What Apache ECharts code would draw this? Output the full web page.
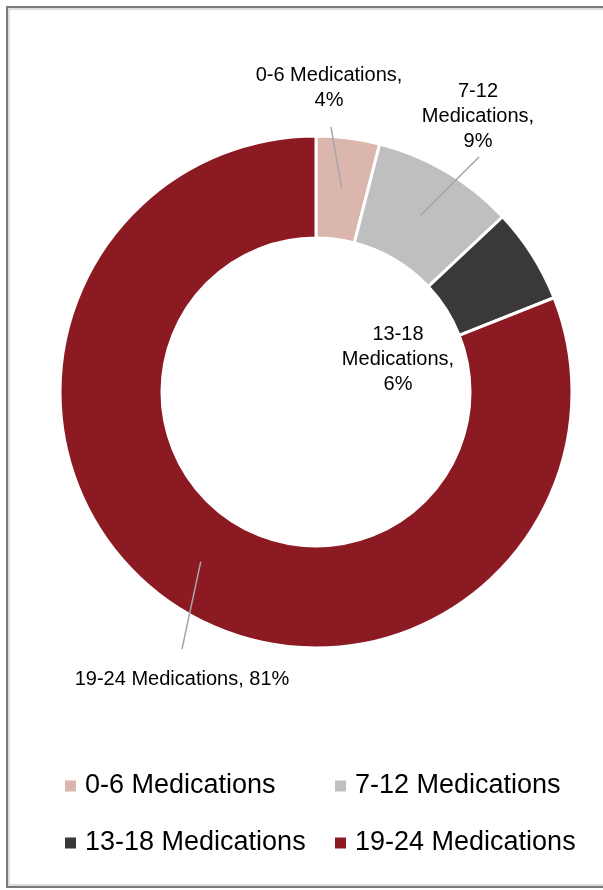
<!DOCTYPE html>
<html>
<head>
<meta charset="utf-8">
<script src="https://cdn.jsdelivr.net/npm/echarts@6/dist/echarts.min.js"></script>
<style>
  html, body { margin: 0; padding: 0; background: #fff; }
  #chart { width: 603px; height: 890px; }
</style>
</head>
<body>
<div id="chart"></div>
<script>
// Medication count groups and their share of patients (%)
const categories = ['0-6 Medications', '7-12 Medications', '13-18 Medications', '19-24 Medications'];
const shares = [4, 9, 6, 81];

const palette = ['#DBB6AD', '#BFBFBF', '#3B3839', '#8C1A22'];
const FONT = '"Liberation Sans", Arial, sans-serif';

// Ring geometry (px)
const CX = 316, CY = 392, R_IN = 154, R_OUT = 256;

// Where each label sits and where its leader line ends
const labelPlacement = [
  { x: 329, y: 88,  lineEnd: [331, 127], lines: 2 },
  { x: 478, y: 116, lineEnd: [479, 157], lines: 3 },
  { x: 398, y: 359, lineEnd: null,       lines: 3 },
  { x: 182, y: 679, lineEnd: [182, 649], lines: 1 }
];

const total = shares.reduce((a, b) => a + b, 0);
const midAngles = [];
let acc = 0;
shares.forEach(v => { midAngles.push((acc + v / 2) / total * 2 * Math.PI); acc += v; });

function labelText(i) {
  const name = categories[i];
  const sp = name.indexOf(' ');
  const range = name.slice(0, sp), word = name.slice(sp + 1);
  const pct = shares[i] + '%';
  const n = labelPlacement[i].lines;
  if (n === 1) return name + ', ' + pct;
  if (n === 2) return name + ',\n' + pct;
  return range + '\n' + word + ',\n' + pct;
}

const chart = echarts.init(document.getElementById('chart'), null, { renderer: 'canvas' });

const legendCommon = {
  orient: 'vertical',
  top: 771,
  padding: 0,
  itemWidth: 11,
  itemHeight: 11,
  itemGap: 27,
  icon: 'rect',
  selectedMode: false,
  itemStyle: { borderWidth: 0 },
  textStyle: { fontFamily: FONT, fontSize: 27, lineHeight: 30, color: '#000', padding: [0, 0, 0, 4] }
};

const pieData = categories.map((name, i) => ({ name: name, value: shares[i] }));

chart.setOption({
  animation: false,
  backgroundColor: '#fff',
  color: palette,
  graphic: [
    { type: 'rect', shape: { x: 7, y: 7, width: 620, height: 880 },
      style: { fill: 'none', stroke: '#7a7a7a', lineWidth: 2 }, silent: true },
    { type: 'rect', shape: { x: 9, y: 9, width: 620, height: 876 },
      style: { fill: 'none', stroke: '#d4d4d4', lineWidth: 1.5 }, silent: true }
  ],
  legend: [
    Object.assign({ left: 65, data: [categories[0], categories[2]] }, legendCommon),
    Object.assign({ left: 335, data: [categories[1], categories[3]] }, legendCommon)
  ],
  series: [
    // The ring itself
    {
      type: 'pie',
      name: 'ring',
      center: [CX, CY],
      radius: [R_IN, R_OUT],
      startAngle: 90,
      clockwise: true,
      itemStyle: { borderColor: '#fff', borderWidth: 3 },
      label: { show: false },
      labelLine: { show: false },
      emphasis: { disabled: true },
      data: pieData
    },
    // Same slices, invisible, carrying the data labels and leader lines on top
    {
      type: 'pie',
      name: 'labels',
      z: 5,
      center: [CX, CY],
      radius: [R_IN, R_OUT],
      startAngle: 90,
      clockwise: true,
      avoidLabelOverlap: false,
      silent: true,
      legendHoverLink: false,
      itemStyle: { color: 'rgba(0,0,0,0)', borderWidth: 0 },
      label: {
        show: true,
        position: 'outside',
        fontFamily: FONT,
        fontSize: 20,
        lineHeight: 25,
        color: '#000',
        align: 'center',
        formatter: p => labelText(p.dataIndex)
      },
      labelLine: {
        show: true,
        smooth: false,
        lineStyle: { color: '#a6a6a6', width: 1.5 }
      },
      labelLayout: function (params) {
        const i = params.dataIndex;
        const pl = labelPlacement[i];
        const out = { x: pl.x, y: pl.y, align: 'center', verticalAlign: 'middle' };
        if (pl.lineEnd) {
          const rMid = (R_IN + R_OUT) / 2;
          const a = midAngles[i];
          const sx = CX + rMid * Math.sin(a);
          const sy = CY - rMid * Math.cos(a);
          out.labelLinePoints = [[sx, sy], [(sx + pl.lineEnd[0]) / 2, (sy + pl.lineEnd[1]) / 2], pl.lineEnd];
        }
        return out;
      },
      emphasis: { disabled: true },
      data: pieData.map((d, i) => ({
        name: d.name,
        value: d.value,
        labelLine: { show: !!labelPlacement[i].lineEnd }
      }))
    }
  ]
});
</script>
</body>
</html>
